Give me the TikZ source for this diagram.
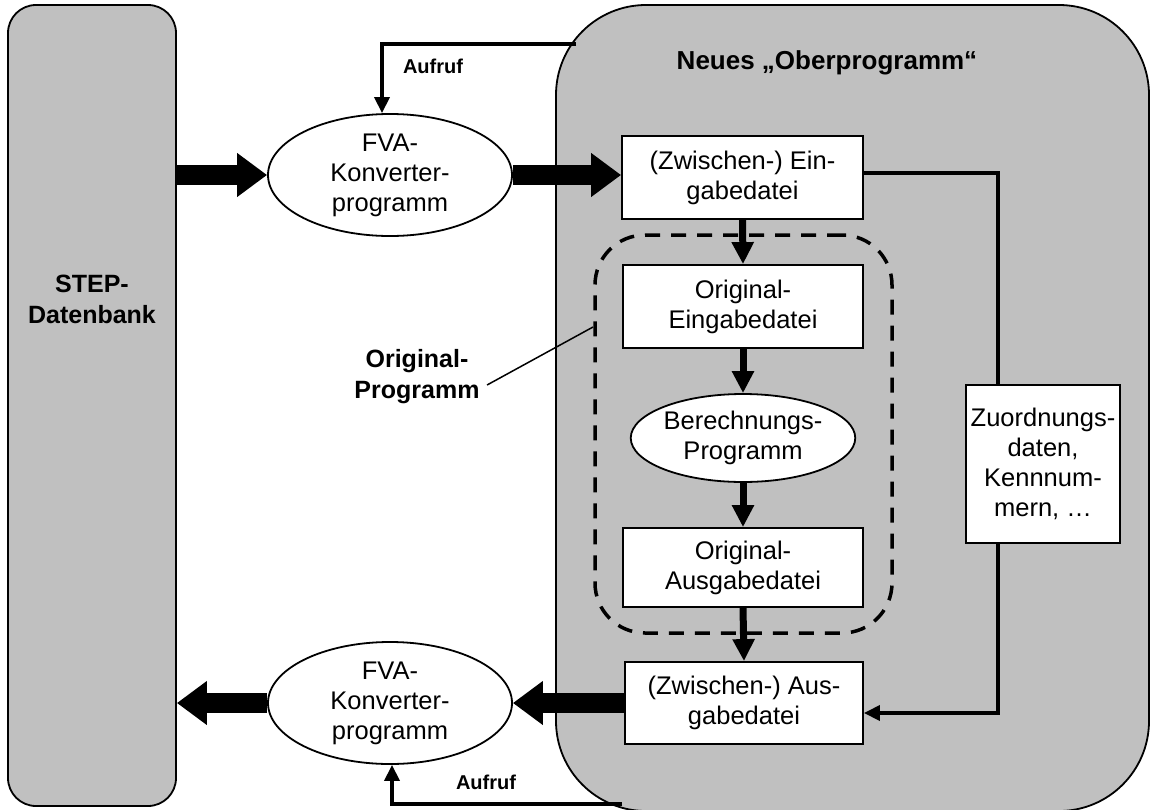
\documentclass[tikz,border=0pt]{standalone}
\usepackage{fontspec}
\setmainfont{Liberation Sans}
\usetikzlibrary{arrows.meta,shapes.geometric,calc}
\definecolor{panelgray}{RGB}{192,192,192}

\begin{document}
\begin{tikzpicture}[x=1pt,y=-1pt,
  txt/.style={font=\fontsize{25.5}{30}\selectfont, align=center},
  boldtxt/.style={font=\fontsize{25}{31}\selectfont\bfseries, align=center},
  panel/.style={draw=black, line width=1.8pt, fill=panelgray, inner sep=0pt},
  whitebox/.style={draw=black, line width=1.8pt, fill=white, inner sep=0pt, txt},
  oval/.style={ellipse, draw=black, line width=1.8pt, fill=white, inner sep=0pt, txt},
  bigarrow/.style={line width=20pt, -{Triangle[length=30pt,width=42pt]}},
  midarrow/.style={line width=7pt, -{Triangle[length=22pt,width=21pt]}},
  thinarrow/.style={line width=3.5pt, -{Triangle[length=16pt,width=15pt]}},
  thinline/.style={line width=3.5pt},
  groupline/.style={draw=black, line width=3.5pt, dash pattern=on 15pt off 11pt, rounded corners=50pt}
]
\useasboundingbox (0,0) rectangle (1151,809);

% outer panels
\node[panel, rounded corners=28pt, minimum width=168pt, minimum height=801pt] (stepdb) at (92,405.5) {};
\node[boldtxt] (steplabel) at (92,299) {STEP-\\Datenbank};

\node[panel, rounded corners=90pt, minimum width=593pt, minimum height=806pt] (ober) at (852.5,408) {};
\node[font=\fontsize{26}{30}\selectfont\bfseries] (title) at (827,63) {Neues „Oberprogramm“};

% converter ovals
\node[oval, minimum width=244pt, minimum height=122pt] (conv1) at (390,175) {FVA-\\Konverter-\\programm};
\node[oval, minimum width=244pt, minimum height=122pt] (conv2) at (390,703) {FVA-\\Konverter-\\programm};

% boxes inside the main program
\node[whitebox, minimum width=241pt, minimum height=83pt] (zein) at (742.5,177.5) {(Zwischen-) Ein-\\gabedatei};
\node[whitebox, minimum width=240pt, minimum height=83pt] (oein) at (743,306.5) {Original-\\Eingabedatei};
\node[oval, minimum width=200pt, minimum height=88pt] (berech) at (743,438) {Berechnungs-\\Programm};
\node[whitebox, minimum width=240pt, minimum height=79pt] (oaus) at (743,567.5) {Original-\\Ausgabedatei};
\node[whitebox, minimum width=238pt, minimum height=82pt] (zaus) at (744,703) {(Zwischen-) Aus-\\gabedatei};
\node[whitebox, minimum width=154pt, minimum height=158pt] (zuord) at (1043,464) {Zuordnungs-\\daten,\\Kennnum-\\mern, …};

% dashed frame of the original program
\node[groupline, minimum width=297pt, minimum height=398pt] (orig) at (743.5,434) {};
\node[boldtxt] (origlabel) at (417,377) {Original-\\Programm};
\coordinate (lead) at (593,327);
\draw[line width=1.5pt] ([xshift=4pt,yshift=-8pt]origlabel.east) -- (lead);

% data flow
\draw[bigarrow] (stepdb.east |- conv1.west) -- (conv1.west);
\draw[bigarrow] (conv1.east) -- (zein.west |- conv1.east);
\draw[bigarrow] (zaus.west |- conv2.east) -- (conv2.east);
\draw[bigarrow] (conv2.west) -- (stepdb.east |- conv2.west);

\draw[midarrow] (zein.south) -- (oein.north);
\draw[midarrow] (oein.south) -- (berech.north);
\draw[midarrow] (berech.south) -- (oaus.north);
\draw[midarrow] (oaus.south) -- (zaus.north);

\coordinate (xr) at (998,0);
\draw[thinline] ([yshift=4.5pt]zein.east) -| (zuord.north -| xr);
\draw[thinarrow] (zuord.south -| xr) |- ([yshift=-10pt]zaus.east);

% calls of the converter
\coordinate (callA) at (576,44);
\coordinate (callB) at (622,804);
\draw[thinarrow] (callA) -| ([xshift=-8pt]conv1.north);
\node[font=\fontsize{20}{24}\selectfont\bfseries] (aufA) at (433,66) {Aufruf};
\draw[thinarrow] (callB) -| ([xshift=2pt]conv2.south);
\node[font=\fontsize{20}{24}\selectfont\bfseries] (aufB) at (486,782) {Aufruf};
\end{tikzpicture}
\end{document}
